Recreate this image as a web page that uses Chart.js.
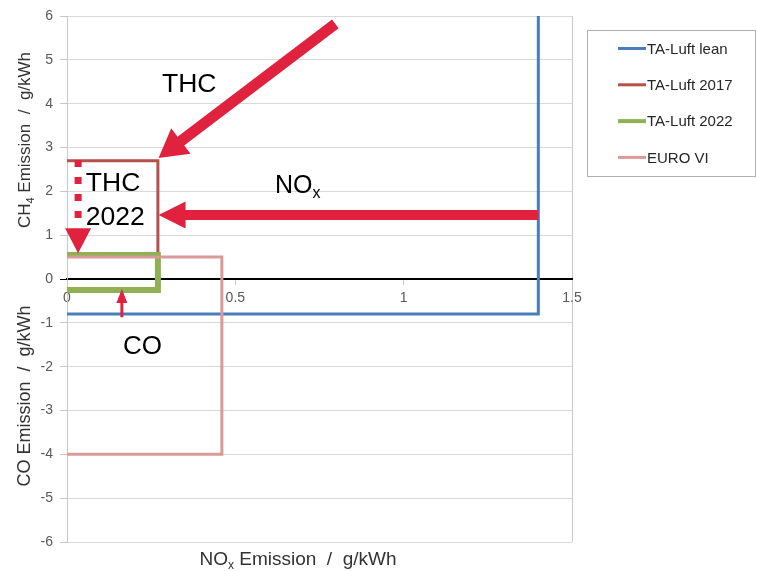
<!DOCTYPE html>
<html><head><meta charset="utf-8">
<script src="https://cdn.jsdelivr.net/npm/chart.js@4.4.1/dist/chart.umd.min.js"></script>
<style>html,body{margin:0;padding:0;background:#fff}#wrap{width:757px;height:571px;position:relative}</style>
</head><body><div id="wrap"><canvas id="c" width="757" height="571" style="width:757px;height:571px"></canvas></div>
<script>
// ---- data ----
const seriesNames = ['TA-Luft lean', 'TA-Luft 2017', 'TA-Luft 2022', 'EURO VI'];
const leanNox = [0, 1.4, 1.4];
const leanVal = [-0.8, -0.8, 6];
const ta2017Nox = [0, 0.27, 0.27];
const ta2017Val = [2.7, 2.7, 0.55];
const ta2022Nox = [0, 0.27, 0.27, 0];
const ta2022Val = [0.55, 0.55, -0.25, -0.25];
const euroNox = [0, 0.46, 0.46, 0];
const euroVal = [0.5, 0.5, -4, -4];
const xTickValues = [0, 0.5, 1, 1.5];
const yTickValues = [-6, -5, -4, -3, -2, -1, 0, 1, 2, 3, 4, 5, 6];

const colors = ['#4A7EBB', '#B5504B', '#8FB154', '#DA9A98'];
const widths = [3, 3, 6, 3];
const FONT = '"Liberation Sans", Arial, sans-serif';
const ARROW = '#E0223F';

function pts(xs, ys) { return xs.map((x, i) => ({x: x, y: ys[i]})); }
const seriesData = [pts(leanNox, leanVal), pts(ta2017Nox, ta2017Val), pts(ta2022Nox, ta2022Val), pts(euroNox, euroVal)];

// annotation anchors in data coordinates
const arrowsCfg = [
  {from: [0.797, 5.82], to: [0.272, 2.76], w: 11, hw: 32, hl: 28},
  {from: [1.4, 1.46], to: [0.272, 1.46], w: 10, hw: 27, hl: 27},
  {from: [0.163, -0.87], to: [0.163, -0.23], w: 3, hw: 11, hl: 14}
];
const labelsCfg = [
  {parts: [['THC', 26.5, 0]], at: [0.282, 4.27]},
  {parts: [['NO', 25, 0], ['x', 16, 5]], at: [0.618, 1.96]},
  {parts: [['THC', 26.5, 0]], at: [0.056, 2.0]},
  {parts: [['2022', 26.5, 0]], at: [0.056, 1.23]},
  {parts: [['CO', 26, 0]], at: [0.166, -1.71]}
];

function drawParts(ctx, parts, x, y, color) {
  ctx.fillStyle = color;
  ctx.textBaseline = 'alphabetic';
  ctx.textAlign = 'left';
  let cx = x;
  for (const [t, s, dy] of parts) {
    ctx.font = s + 'px ' + FONT;
    ctx.fillText(t, cx, y + dy);
    cx += ctx.measureText(t).width;
  }
  return cx - x;
}
function partsWidth(ctx, parts) {
  let w = 0;
  for (const [t, s] of parts) { ctx.font = s + 'px ' + FONT; w += ctx.measureText(t).width; }
  return w;
}
function arrow(ctx, x1, y1, x2, y2, w, hw, hl) {
  const dx = x2 - x1, dy = y2 - y1, L = Math.hypot(dx, dy);
  const ux = dx / L, uy = dy / L, px = -uy, py = ux;
  const bx = x2 - ux * hl, by = y2 - uy * hl;
  ctx.beginPath();
  ctx.moveTo(x1 + px * w / 2, y1 + py * w / 2);
  ctx.lineTo(bx + px * w / 2, by + py * w / 2);
  ctx.lineTo(bx + px * hw / 2, by + py * hw / 2);
  ctx.lineTo(x2, y2);
  ctx.lineTo(bx - px * hw / 2, by - py * hw / 2);
  ctx.lineTo(bx - px * w / 2, by - py * w / 2);
  ctx.lineTo(x1 - px * w / 2, y1 - py * w / 2);
  ctx.closePath();
  ctx.fill();
}

const overlay = {
  id: 'overlay',
  afterDatasetsDraw(chart) {
    const ctx = chart.ctx, xs = chart.scales.x, ys = chart.scales.y;
    const P = (a) => [xs.getPixelForValue(a[0]), ys.getPixelForValue(a[1])];
    ctx.save();
    ctx.fillStyle = ARROW;
    for (const a of arrowsCfg) {
      const f = P(a.from), t = P(a.to);
      arrow(ctx, f[0], f[1], t[0], t[1], a.w, a.hw, a.hl);
    }
    // dotted vertical with triangle head
    const d1 = P([0.033, 2.715]), d2 = P([0.033, 1.39]);
    ctx.strokeStyle = ARROW; ctx.lineWidth = 7; ctx.setLineDash([7, 10]);
    ctx.beginPath(); ctx.moveTo(d1[0], d1[1]); ctx.lineTo(d2[0], d2[1]); ctx.stroke();
    ctx.setLineDash([]);
    const tb = P([0.033, 1.16]), tt = P([0.033, 0.59]);
    ctx.beginPath(); ctx.moveTo(tb[0] - 13, tb[1]); ctx.lineTo(tb[0] + 13, tb[1]); ctx.lineTo(tt[0], tt[1]); ctx.closePath(); ctx.fill();
    for (const l of labelsCfg) {
      const p = P(l.at);
      drawParts(ctx, l.parts, p[0], p[1], '#000');
    }
    ctx.restore();
  },
  afterDraw(chart) {
    const ctx = chart.ctx, ys = chart.scales.y;
    ctx.save();
    // axis titles
    const t1 = [['CH', 17, 0], ['4', 11, 4], [' Emission  /  g/kWh', 17, 0]];
    const t2 = [['CO Emission  /  g/kWh', 18, 0]];
    const drawRot = (parts, cy) => {
      ctx.save();
      ctx.translate(30, cy);
      ctx.rotate(-Math.PI / 2);
      const w = partsWidth(ctx, parts);
      drawParts(ctx, parts, -w / 2, 0, '#333');
      ctx.restore();
    };
    drawRot(t1, ys.getPixelForValue(3) - 7.5);
    drawRot(t2, ys.getPixelForValue(-3) - 14.5);
    const tx = [['NO', 19, 0], ['x', 12, 4], [' Emission  /  g/kWh', 19, 0]];
    const wx = partsWidth(ctx, tx);
    drawParts(ctx, tx, 298 - wx / 2, 565, '#333');
    // legend
    const lx = 587.5, ly = 30.5, lw = 168, lh = 146;
    ctx.strokeStyle = '#b0b0b0'; ctx.lineWidth = 1;
    ctx.strokeRect(lx, ly, lw, lh);
    chart.data.datasets.forEach((ds, i) => {
      const yy = 48.5 + i * 36.3;
      ctx.strokeStyle = ds.borderColor; ctx.lineWidth = i === 2 ? 4 : 3;
      ctx.beginPath(); ctx.moveTo(618, yy); ctx.lineTo(646, yy); ctx.stroke();
      ctx.fillStyle = '#262626'; ctx.font = '15px ' + FONT; ctx.textBaseline = 'middle'; ctx.textAlign = 'left';
      ctx.fillText(ds.label, 647, yy + 1);
    });
    ctx.restore();
  }
};

new Chart(document.getElementById('c'), {
  type: 'scatter',
  data: {
    datasets: seriesNames.map((n, i) => ({
      label: n, data: seriesData[i], showLine: true, borderColor: colors[i], backgroundColor: colors[i],
      borderWidth: widths[i], pointRadius: 0, fill: false, tension: 0, order: 4 - i,
      borderJoinStyle: 'miter', borderCapStyle: 'butt'
    }))
  },
  options: {
    responsive: false, maintainAspectRatio: false, animation: false, devicePixelRatio: 1,
    layout: {padding: {top: 16, right: 185, bottom: 29, left: 0}},
    plugins: {legend: {display: false}, tooltip: {enabled: false}},
    scales: {
      x: {
        type: 'linear', position: {y: 0}, min: 0, max: 1.5,
        afterBuildTicks: (s) => { s.ticks = xTickValues.map(v => ({value: v})); },
        ticks: {font: {family: FONT, size: 14}, color: '#595959', padding: 6, maxRotation: 0, autoSkip: false,
          callback: (v) => String(v)},
        grid: {color: (c) => c.tick && c.tick.value === 1.5 ? '#c8c8c8' : 'rgba(0,0,0,0)',
          tickColor: '#c8c8c8', tickLength: 5, drawTicks: true},
        border: {color: '#000', width: 2}
      },
      y: {
        type: 'linear', position: 'left', min: -6, max: 6,
        afterBuildTicks: (s) => { s.ticks = yTickValues.map(v => ({value: v})); },
        afterFit: (s) => { s.width = 67; },
        ticks: {font: {family: FONT, size: 14}, color: '#595959', padding: 7, autoSkip: false,
          callback: (v) => String(v)},
        grid: {color: '#d9d9d9', tickColor: (c) => c.tick && c.tick.value === 0 ? '#000' : '#c8c8c8', tickLength: 7},
        border: {color: '#c8c8c8', width: 1}
      }
    }
  },
  plugins: [overlay]
});
</script>
</body></html>
